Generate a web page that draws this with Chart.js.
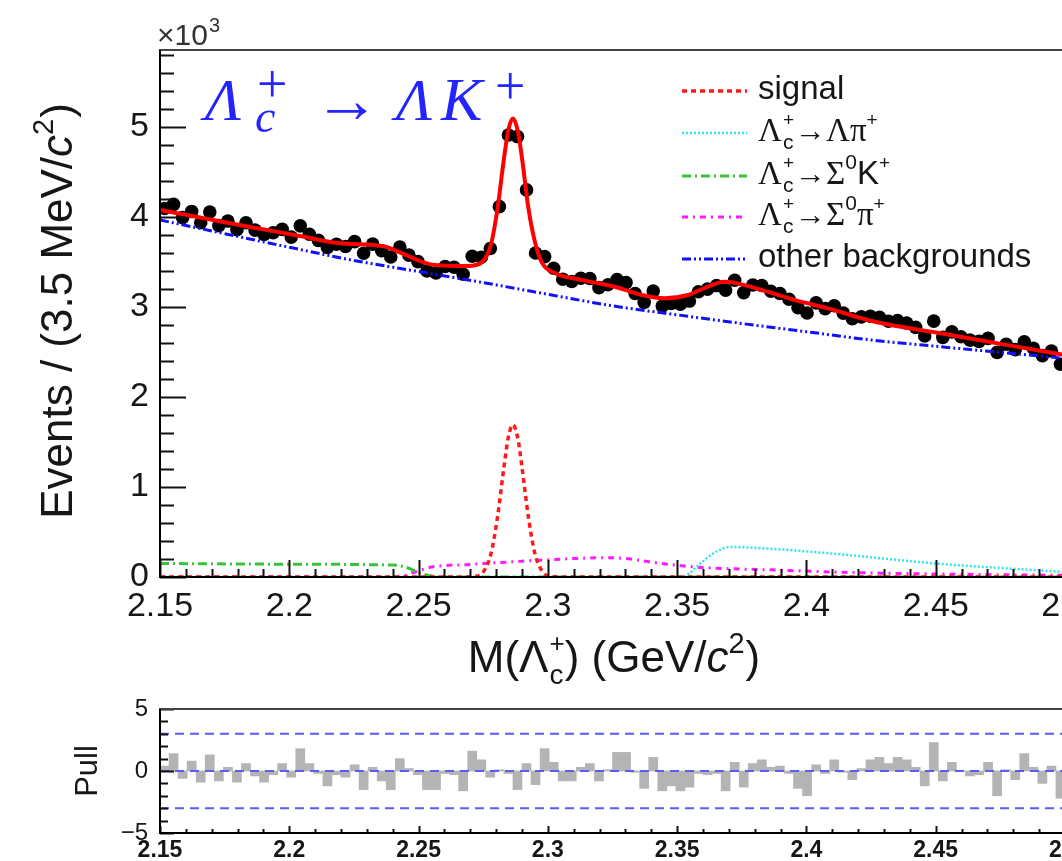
<!DOCTYPE html>
<html><head><meta charset="utf-8">
<script src="https://cdn.jsdelivr.net/npm/chart.js@4.4.1/dist/chart.umd.min.js"></script>
<style>
html,body{margin:0;padding:0;background:#fff;overflow:hidden;width:1062px;height:861px;position:relative;}
.wrap{position:absolute;left:0;}
canvas{display:block;}
</style></head><body>
<div class="wrap" style="top:0"><canvas id="main" width="1130" height="690"></canvas></div>
<div class="wrap" style="top:690px"><canvas id="pull" width="1130" height="171"></canvas></div>
<script>
// ---------------- data ----------------
const binCenters = [2.15175,2.15525,2.15875,2.16225,2.16575,2.16925,2.17275,2.17625,2.17975,2.18325,
2.18675,2.19025,2.19375,2.19725,2.20075,2.20425,2.20775,2.21125,2.21475,2.21825,
2.22175,2.22525,2.22875,2.23225,2.23575,2.23925,2.24275,2.24625,2.24975,2.25325,
2.25675,2.26025,2.26375,2.26725,2.27075,2.27425,2.27775,2.28125,2.28475,2.28825,
2.29175,2.29525,2.29875,2.30225,2.30575,2.30925,2.31275,2.31625,2.31975,2.32325,
2.32675,2.33025,2.33375,2.33725,2.34075,2.34425,2.34775,2.35125,2.35475,2.35825,
2.36175,2.36525,2.36875,2.37225,2.37575,2.37925,2.38275,2.38625,2.38975,2.39325,
2.39675,2.40025,2.40375,2.40725,2.41075,2.41425,2.41775,2.42125,2.42475,2.42825,
2.43175,2.43525,2.43875,2.44225,2.44575,2.44925,2.45275,2.45625,2.45975,2.46325,
2.46675,2.47025,2.47375,2.47725,2.48075,2.48425,2.48775,2.49125,2.49475,2.49825];

const events = [4091,4136,3989,4058,3932,4052,3901,3951,3856,3932,
3851,3802,3821,3859,3773,3898,3804,3737,3657,3693,
3669,3723,3594,3695,3621,3552,3663,3573,3501,3398,
3374,3447,3438,3360,3560,3550,3646,4111,4907,4889,
4297,3596,3556,3427,3306,3280,3316,3313,3212,3244,
3301,3268,3147,3049,3174,3007,3036,3028,3063,3167,
3196,3235,3185,3294,3157,3242,3236,3172,3147,3083,
2989,2931,3043,2979,3011,2929,2867,2887,2895,2883,
2839,2848,2820,2771,2675,2840,2660,2721,2667,2629,
2616,2649,2493,2583,2524,2612,2540,2457,2509,2362];

const pulls = [0.4,1.4,-0.6,0.8,-0.9,1.3,-0.8,0.3,-0.9,0.6,
-0.4,-0.9,-0.3,0.6,-0.5,1.8,0.6,-0.2,-1.2,-0.3,
-0.5,0.5,-1.5,0.3,-0.8,-1.5,1.0,0.2,-0.3,-1.5,
-1.5,-0.2,-0.3,-1.6,1.6,0.9,-0.5,0.1,-0.2,-1.5,
0.6,-1.1,1.8,0.7,-0.8,-0.8,0.3,0.6,-0.8,0.1,
1.5,1.5,-0.1,-1.4,1.1,-1.6,-1.2,-1.6,-1.3,-0.2,
-0.3,-0.2,-1.6,0.7,-1.3,0.6,0.9,0.3,0.4,-0.2,
-1.4,-2.0,0.5,-0.2,0.9,-0.1,-0.7,0.2,0.9,1.1,
0.6,1.1,0.9,0.3,-1.2,2.3,-0.8,0.7,0.0,-0.4,
-0.3,0.7,-2.0,0.1,-0.7,1.4,0.3,-1.0,0.4,-2.2];

const fitMass = [2.150,2.1655,2.1848,2.2041,2.2196,2.237,2.2436,2.2513,2.2563,2.2691,2.2745,2.278,2.2805,2.283,2.2847,2.2865,2.2883,2.290,2.2925,2.295,2.2977,2.3027,2.3132,2.3259,2.3364,2.3453,2.3542,2.3588,2.3685,2.3828,2.3956,2.4083,2.4265,2.4524,2.4779,2.500];
const fitEvents = [4075,3990,3886,3786,3704,3667,3593,3500,3463,3452,3495,3690,4085,4640,4960,5090,4960,4650,4090,3720,3490,3374,3296,3222,3130,3093,3130,3185,3278,3185,3074,2982,2833,2704,2574,2463];

const signalMass = [2.15,2.266,2.272,2.275,2.278,2.2805,2.283,2.2847,2.2865,2.2883,2.290,2.2925,2.295,2.298,2.301,2.307,2.5];
const signalEvents = [0,0,7,55,259,660,1217,1550,1690,1550,1217,660,259,55,7,0,0];

const lamPiMass = [2.15,2.35,2.353,2.359,2.365,2.3704,2.385,2.41,2.45,2.5];
const lamPiEvents = [0,0,10,150,280,333,315,260,150,55];

const sigKMass = [2.15,2.2,2.24,2.244,2.248,2.252,2.256,2.26,2.5];
const sigKEvents = [150,142,132,118,75,30,6,0,0];

const sigPiMass = [2.15,2.242,2.248,2.255,2.27,2.29,2.31,2.322,2.33,2.34,2.35,2.36,2.385,2.42,2.46,2.5];
const sigPiEvents = [0,0,50,110,140,175,205,215,205,165,130,105,80,48,30,18];

const otherMass = [2.15,2.175,2.2,2.225,2.25,2.275,2.3,2.325,2.35,2.375,2.4,2.425,2.45,2.475,2.5];
const otherEvents = [3963,3811,3660,3514,3391,3268,3138,3010,2910,2814,2723,2631,2561,2494,2427];

const xTicks = [2.15,2.2,2.25,2.3,2.35,2.4,2.45,2.5];
const xTickLabels = ['2.15','2.2','2.25','2.3','2.35','2.4','2.45','2.5'];
const yTicks = [0,1000,2000,3000,4000,5000];
const yTickLabels = ['0','1','2','3','4','5'];
const pullTicks = [-5,0,5];
const pullTickLabels = ['\u22125','0','5'];
const pullRefLines = [-3,0,3];

// ---------------- helpers ----------------
const SANS = '"Liberation Sans", Arial, Helvetica, sans-serif';
const SERIF = '"Liberation Serif", "Times New Roman", serif';
const TXT = '#161616';
const pts = (xs, ys) => xs.map((x, i) => ({x, y: ys[i]}));

function rich(ctx, segs, x, y, draw) {
  let cx = x, prevStart = x;
  for (const s of segs) {
    ctx.font = s.f;
    const w = ctx.measureText(s.t).width;
    const start = s.stack ? prevStart : cx + (s.dx || 0);
    if (draw) { ctx.fillStyle = s.c || TXT; ctx.fillText(s.t, start, y + (s.dy || 0)); }
    const end = start + w;
    cx = s.stack ? Math.max(cx, end) : end;
    prevStart = start;
  }
  return cx - x;
}

const styles = {
  fit: {color:'#ff0000', dash:[], width:4},
  signal: {color:'#ff1a1a', dash:[5,4], width:3.5},
  lamPi: {color:'#2fe3f0', dash:[2,2], width:2.5},
  sigK:  {color:'#38c438', dash:[9,4,2,4], width:3},
  sigPi: {color:'#ff1aff', dash:[6,5,2,5], width:3},
  other: {color:'#1010ff', dash:[9,3,2,3,2,3], width:3}
};

function lineDs(label, xs, ys, st, order) {
  return {label, data: pts(xs, ys), showLine: true, pointRadius: 0, borderColor: st.color,
    borderWidth: st.width, borderDash: st.dash || [], cubicInterpolationMode: 'monotone', order, fill: false};
}

// frame + ROOT style inner ticks
function makeFramePlugin(cfg) {
  return {
    id: 'frame_' + cfg.name,
    afterDatasetsDraw(chart) {
      const {ctx, chartArea: a, scales: {x, y}} = chart;
      ctx.save();
      ctx.lineCap = 'butt';
      ctx.strokeStyle = '#111';
      ctx.beginPath();
      for (let v = cfg.xMin; v <= cfg.xMax + 1e-9; v += cfg.xMinor) {
        const vv = Math.round(v * 1000) / 1000;
        const major = Math.abs(vv / cfg.xMajor - Math.round(vv / cfg.xMajor)) < 1e-6;
        const px = Math.round(x.getPixelForValue(vv)) + 0.5;
        const len = major ? cfg.xMajLen : cfg.xMinLen;
        ctx.moveTo(px, a.bottom); ctx.lineTo(px, a.bottom - len);
      }
      for (let v = cfg.yMin; v <= cfg.yMax + 1e-9; v += cfg.yMinor) {
        const major = Math.abs(v / cfg.yMajor - Math.round(v / cfg.yMajor)) < 1e-6;
        const py = Math.round(y.getPixelForValue(v)) + 0.5;
        const len = major ? cfg.yMajLen : cfg.yMinLen;
        ctx.moveTo(a.left, py); ctx.lineTo(a.left + len, py);
      }
      ctx.lineWidth = 2;
      ctx.stroke();
      ctx.strokeStyle = '#444';
      ctx.lineWidth = 2;
      ctx.strokeRect(a.left, a.top, a.right - a.left, a.bottom - a.top);
      ctx.strokeStyle = '#000';
      ctx.beginPath();
      ctx.moveTo(a.left, a.top); ctx.lineTo(a.left, a.bottom); ctx.lineTo(a.right, a.bottom);
      ctx.stroke();
      ctx.restore();
    }
  };
}

function lamSegs(rest) {
  return [{t:'\u039b', f:`33px ${SERIF}`}, {t:'+', f:`19px ${SANS}`, dy:-15, dx:1}, {t:'c', f:`21px ${SANS}`, dy:8, stack:true}].concat(rest);
}

// ---------------- main chart ----------------
const mainAnnot = {
  id: 'mainAnnot',
  afterDraw(chart) {
    const ctx = chart.ctx;
    ctx.save();
    ctx.textBaseline = 'alphabetic';
    // x10^3
    rich(ctx, [{t:'\u00d710', f:`30px ${SANS}`, c:'#333'}, {t:'3', f:`20px ${SANS}`, dy:-13, dx:1, c:'#333'}], 157, 45, true);
    // title
    ctx.fillStyle = '#2424ff';
    ctx.font = `italic 60px ${SERIF}`; ctx.fillText('\u039b', 205, 120);
    ctx.font = `italic 46px ${SERIF}`; ctx.fillText('c', 255, 132);
    ctx.font = `54px ${SERIF}`; ctx.fillText('+', 257, 102);
    ctx.font = `66px ${SERIF}`; ctx.fillText('\u2192', 314, 122);
    ctx.font = `italic 60px ${SERIF}`; ctx.fillText('\u039b', 396, 120);
    ctx.font = `italic 62px ${SERIF}`; ctx.fillText('K', 441, 120);
    ctx.font = `54px ${SERIF}`; ctx.fillText('+', 495, 104);
    // legend
    const LF = `33px ${SANS}`;
    const rows = [
      {st: styles.signal, y: 91, segs: [{t:'signal', f:LF}]},
      {st: styles.lamPi, y: 133, segs: lamSegs([{t:'\u2192', f:`31px ${SERIF}`, dx:1}, {t:'\u039b', f:`33px ${SERIF}`}, {t:'\u03c0', f:`33px ${SERIF}`}, {t:'+', f:`19px ${SANS}`, dy:-15}])},
      {st: styles.sigK, y: 176, segs: lamSegs([{t:'\u2192', f:`31px ${SERIF}`, dx:1}, {t:'\u03a3', f:`33px ${SERIF}`}, {t:'0', f:`21px ${SANS}`, dy:-15}, {t:'K', f:LF}, {t:'+', f:`19px ${SANS}`, dy:-15}])},
      {st: styles.sigPi, y: 217, segs: lamSegs([{t:'\u2192', f:`31px ${SERIF}`, dx:1}, {t:'\u03a3', f:`33px ${SERIF}`}, {t:'0', f:`21px ${SANS}`, dy:-15}, {t:'\u03c0', f:`33px ${SERIF}`}, {t:'+', f:`19px ${SANS}`, dy:-15}])},
      {st: styles.other, y: 259, segs: [{t:'other backgrounds', f:LF}]}
    ];
    for (const r of rows) {
      ctx.save();
      ctx.strokeStyle = r.st.color; ctx.lineWidth = r.st.width; ctx.setLineDash(r.st.dash);
      ctx.beginPath(); ctx.moveTo(682, r.y); ctx.lineTo(747, r.y); ctx.stroke();
      ctx.restore();
      rich(ctx, r.segs, 758, r.y + 8, true);
    }
    // y title
    const ySegs = [{t:'Events / (3.5 MeV/', f:`44px ${SANS}`}, {t:'c', f:`italic 44px ${SANS}`}, {t:'2', f:`29px ${SANS}`, dy:-19}, {t:')', f:`44px ${SANS}`, dx:1}];
    const yw = rich(ctx, ySegs, 0, 0, false);
    ctx.save(); ctx.translate(56, 311); ctx.rotate(-Math.PI / 2);
    rich(ctx, ySegs, -yw / 2, 16, true);
    ctx.restore();
    // x title
    const xSegs = [{t:'M(\u039b', f:`44px ${SANS}`}, {t:'+', f:`26px ${SANS}`, dy:-20, dx:1}, {t:'c', f:`28px ${SANS}`, dy:12, stack:true},
      {t:') (GeV/', f:`44px ${SANS}`}, {t:'c', f:`italic 44px ${SANS}`}, {t:'2', f:`29px ${SANS}`, dy:-19}, {t:')', f:`44px ${SANS}`, dx:1}];
    const xw = rich(ctx, xSegs, 0, 0, false);
    rich(ctx, xSegs, 614 - xw / 2, 672, true);
    ctx.restore();
  }
};

new Chart(document.getElementById('main'), {
  type: 'scatter',
  data: {datasets: [
    lineDs('fit', fitMass, fitEvents, styles.fit, 1),
    lineDs('signal', signalMass, signalEvents, styles.signal, 2),
    lineDs('lamPi', lamPiMass, lamPiEvents, styles.lamPi, 3),
    lineDs('sigK', sigKMass, sigKEvents, styles.sigK, 4),
    lineDs('sigPi', sigPiMass, sigPiEvents, styles.sigPi, 5),
    lineDs('other', otherMass, otherEvents, styles.other, 6),
    {label:'data', data: pts(binCenters, events), pointRadius: 6.8, pointBackgroundColor:'#000', pointBorderWidth:0, pointBorderColor:'#000', showLine:false, order: 10}
  ]},
  options: {
    responsive: false, animation: false, events: [],
    layout: {padding: {left: 0, right: 65, top: 50, bottom: 0}},
    plugins: {legend: {display: false}, tooltip: {enabled: false}},
    scales: {
      x: {type:'linear', min: 2.15, max: 2.5, offset:false,
        afterBuildTicks: s => { s.ticks = xTicks.map(v => ({value: v})); },
        afterFit: s => { s.height = 113; },
        grid: {display: false, drawTicks: false}, border: {display: false},
        ticks: {autoSkip:false, maxRotation:0, padding: 9, color: TXT, font: {family: SANS, size: 34},
          callback: (v) => { const i = xTicks.findIndex(t => Math.abs(t - v) < 1e-6); return i >= 0 ? xTickLabels[i] : ''; }}
      },
      y: {type:'linear', min: 0, max: 5850,
        afterBuildTicks: s => { s.ticks = yTicks.map(v => ({value: v})); },
        afterFit: s => { s.width = 160; },
        grid: {display: false, drawTicks: false}, border: {display: false},
        ticks: {padding: 11, color: TXT, font: {family: SANS, size: 34},
          callback: (v) => { const i = yTicks.indexOf(v); return i >= 0 ? yTickLabels[i] : ''; }}
      }
    }
  },
  plugins: [makeFramePlugin({name:'m', xMin:2.15, xMax:2.5, xMinor:0.01, xMajor:0.05, xMajLen:17, xMinLen:8,
    yMin:0, yMax:5800, yMinor:200, yMajor:1000, yMajLen:26, yMinLen:14}), mainAnnot]
});

// ---------------- pull chart ----------------
const pullAnnot = {
  id: 'pullAnnot',
  afterDraw(chart) {
    const ctx = chart.ctx;
    ctx.save();
    ctx.font = `31px ${SANS}`; ctx.fillStyle = TXT;
    const w = ctx.measureText('Pull').width;
    ctx.translate(86, 81); ctx.rotate(-Math.PI / 2);
    ctx.fillText('Pull', -w / 2, 11);
    ctx.restore();
  }
};

new Chart(document.getElementById('pull'), {
  type: 'bar',
  data: {datasets: [
    ...pullRefLines.map(v => ({type:'line', label:'ref' + v, data: [{x:2.15, y:v}, {x:2.5, y:v}], borderColor:'#5a5aff',
      borderWidth: 2, borderDash:[9,6], pointRadius:0, order:1})),
    {type:'bar', label:'pull', data: pts(binCenters, pulls), backgroundColor:'#b4b4b4', borderWidth:0,
      barPercentage:1, categoryPercentage:1, order:2}
  ]},
  options: {
    responsive: false, animation: false, events: [],
    layout: {padding: {left: 0, right: 65, top: 19, bottom: 0}, autoPadding: false},
    plugins: {legend: {display: false}, tooltip: {enabled: false}},
    scales: {
      x: {type:'linear', min: 2.15, max: 2.5, offset:false,
        afterBuildTicks: s => { s.ticks = xTicks.map(v => ({value: v})); },
        afterFit: s => { s.height = 28; },
        grid: {display: false, drawTicks: false}, border: {display: false},
        ticks: {autoSkip:false, maxRotation:0, padding: 4, color: TXT, font: {family: SANS, size: 23, weight:'bold'},
          callback: (v) => { const i = xTicks.findIndex(t => Math.abs(t - v) < 1e-6); return i >= 0 ? xTickLabels[i] : ''; }}
      },
      y: {type:'linear', min: -5, max: 5,
        afterBuildTicks: s => { s.ticks = pullTicks.map(v => ({value: v})); },
        afterFit: s => { s.width = 160; },
        grid: {display: false, drawTicks: false}, border: {display: false},
        ticks: {padding: 12, color: TXT, font: {family: SANS, size: 24, lineHeight: 0.3},
          callback: (v) => { const i = pullTicks.indexOf(v); return i >= 0 ? pullTickLabels[i] : ''; }}
      }
    }
  },
  plugins: [makeFramePlugin({name:'p', xMin:2.15, xMax:2.5, xMinor:0.01, xMajor:0.05, xMajLen:7, xMinLen:4,
    yMin:-5, yMax:5, yMinor:1, yMajor:5, yMajLen:14, yMinLen:8}), pullAnnot]
});
</script>
</body></html>
